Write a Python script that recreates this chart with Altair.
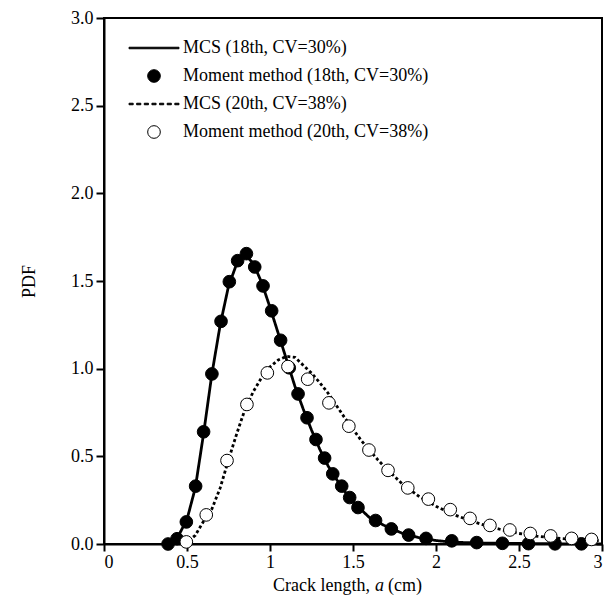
import altair as alt
import pandas as pd

# ---------------- data ----------------
series_names = [
    "MCS (18th, CV=30%)",
    "Moment method (18th, CV=30%)",
    "MCS (20th, CV=38%)",
    "Moment method (20th, CV=38%)",
]

mcs18_x = [0.38, 0.42, 0.45, 0.50, 0.55, 0.60, 0.65, 0.70, 0.75, 0.80, 0.85, 0.90, 0.95, 1.00,
           1.05, 1.10, 1.15, 1.20, 1.25, 1.30, 1.35, 1.40, 1.45, 1.50, 1.60, 1.70, 1.80, 1.90,
           2.00, 2.10, 2.30, 2.60, 3.00]
mcs18_y = [0.00, 0.01, 0.05, 0.14, 0.32, 0.63, 0.97, 1.25, 1.47, 1.60, 1.65, 1.60, 1.49, 1.35,
           1.20, 1.05, 0.90, 0.77, 0.65, 0.54, 0.445, 0.37, 0.30, 0.24, 0.15, 0.10, 0.06, 0.035,
           0.02, 0.01, 0.005, 0.002, 0.0]

mcs20_x = [0.45, 0.50, 0.55, 0.60, 0.65, 0.70, 0.75, 0.80, 0.85, 0.90, 0.95, 1.00, 1.05, 1.10,
           1.15, 1.20, 1.25, 1.30, 1.35, 1.40, 1.45, 1.50, 1.55, 1.60, 1.65, 1.70, 1.80, 1.90,
           2.00, 2.10, 2.20, 2.30, 2.40, 2.50, 2.60, 2.70, 2.80, 2.90, 3.00]
mcs20_y = [0.00, 0.01, 0.05, 0.13, 0.20, 0.32, 0.48, 0.63, 0.77, 0.87, 0.95, 1.01, 1.05, 1.07,
           1.065, 1.02, 0.975, 0.92, 0.86, 0.79, 0.72, 0.655, 0.59, 0.535, 0.48, 0.43, 0.34, 0.27,
           0.215, 0.17, 0.135, 0.105, 0.08, 0.06, 0.045, 0.035, 0.028, 0.022, 0.018]

mm18_x = [0.386, 0.44, 0.496, 0.552, 0.60, 0.65, 0.705, 0.755, 0.805, 0.858, 0.908, 0.958, 1.010,
          1.064, 1.116, 1.169, 1.223, 1.277, 1.329, 1.378, 1.432, 1.48, 1.530, 1.636, 1.731, 1.835,
          1.94, 2.095, 2.245, 2.40, 2.557, 2.717, 2.876]
mm18_y = [0.00, 0.03, 0.126, 0.33, 0.64, 0.97, 1.27, 1.496, 1.616, 1.656, 1.58, 1.472, 1.33,
          1.162, 1.005, 0.856, 0.72, 0.596, 0.49, 0.40, 0.33, 0.265, 0.208, 0.134, 0.086, 0.051,
          0.032, 0.018, 0.008, 0.004, 0.002, 0.001, 0.001]

mm20_x = [0.496, 0.616, 0.741, 0.861, 0.984, 1.108, 1.227, 1.355, 1.475, 1.596, 1.711, 1.83, 1.954,
          2.086, 2.205, 2.325, 2.445, 2.568, 2.691, 2.817, 2.937]
mm20_y = [0.012, 0.166, 0.476, 0.796, 0.976, 1.012, 0.94, 0.805, 0.672, 0.536, 0.42, 0.32, 0.256,
          0.196, 0.146, 0.106, 0.08, 0.06, 0.046, 0.032, 0.026]

x_ticks = [0, 0.5, 1, 1.5, 2, 2.5, 3]
y_ticks = [0, 0.5, 1, 1.5, 2, 2.5, 3]
x_title_parts = ["Crack length,", "a", "(cm)"]
y_title = "PDF"

# ---------------- tables ----------------
lines_df = pd.concat([
    pd.DataFrame({"x": mcs18_x, "y": mcs18_y, "series": series_names[0]}),
    pd.DataFrame({"x": mcs20_x, "y": mcs20_y, "series": series_names[2]}),
])
pts_df = pd.concat([
    pd.DataFrame({"x": mm18_x, "y": mm18_y, "series": series_names[1]}),
    pd.DataFrame({"x": mm20_x, "y": mm20_y, "series": series_names[3]}),
])

FONT = "Liberation Serif"
FS = 18
W, H = 498, 526

xscale = alt.Scale(domain=[0, 3], nice=False, zero=False)
yscale = alt.Scale(domain=[0, 3], nice=False)

xenc = alt.X("x:Q", scale=xscale,
             axis=alt.Axis(values=x_ticks, format="~g", title=None,
                           tickSize=7, labelPadding=2))
yenc = alt.Y("y:Q", scale=yscale,
             axis=alt.Axis(values=y_ticks, format=".1f", title=y_title,
                           titleX=-66, titleY=H / 2, titleAngle=-90))

# legend symbols: thin bar, circle, dashed bar, circle
HALF = 3.95
TH = 0.12
line_path = f"M{-HALF},{-TH}H{HALF}V{TH}H{-HALF}Z"
dash_parts = []
n_dash = 7
dash_len = 0.66
gap = (2 * HALF - n_dash * dash_len) / (n_dash - 1)
pos = -HALF
for i in range(n_dash):
    dash_parts.append(f"M{pos:.3f},{-TH}H{pos + dash_len:.3f}V{TH}H{pos:.3f}Z")
    pos += dash_len + gap
dash_path = "".join(dash_parts)

legend = alt.Legend(title=None, orient="none", legendX=41, legendY=21,
                    symbolSize=160, symbolStrokeColor="black", symbolStrokeWidth=1,
                    labelFont=FONT, labelFontSize=FS, labelColor="black",
                    labelOffset=20, rowPadding=10, padding=0, labelLimit=400)

lines = alt.Chart(lines_df).mark_line(color="black", strokeWidth=2.8).encode(
    x=xenc, y=yenc,
    strokeDash=alt.StrokeDash("series:N",
                              scale=alt.Scale(domain=[series_names[0], series_names[2]],
                                              range=[[1, 0], [3, 2.5]]),
                              legend=None),
)

points = alt.Chart(pts_df).mark_point(filled=True, size=160, strokeWidth=1, opacity=1).encode(
    x=xenc, y=yenc,
    shape=alt.Shape("series:N",
                    scale=alt.Scale(domain=series_names,
                                    range=[line_path, "circle", dash_path, "circle"]),
                    legend=legend),
    fill=alt.Fill("series:N",
                  scale=alt.Scale(domain=series_names,
                                  range=["black", "black", "black", "white"]),
                  legend=legend),
    stroke=alt.Stroke("series:N",
                      scale=alt.Scale(domain=series_names,
                                      range=["black", "black", "black", "black"]),
                      legend=legend),
)

TY = H + 42
t1 = alt.Chart(pd.DataFrame({"t": [x_title_parts[0]]})).mark_text(
    font=FONT, fontSize=FS, align="right", baseline="middle", color="black"
).encode(x=alt.value(266), y=alt.value(TY), text="t:N")
t2 = alt.Chart(pd.DataFrame({"t": [x_title_parts[1]]})).mark_text(
    font=FONT, fontSize=FS, fontStyle="italic", align="left", baseline="middle", color="black"
).encode(x=alt.value(271), y=alt.value(TY), text="t:N")
t3 = alt.Chart(pd.DataFrame({"t": [x_title_parts[2]]})).mark_text(
    font=FONT, fontSize=FS, align="left", baseline="middle", color="black"
).encode(x=alt.value(284), y=alt.value(TY), text="t:N")

chart = alt.layer(lines, points, t1, t2, t3).properties(
    width=W, height=H,
    padding={"left": 96, "top": 10, "right": 2, "bottom": 52},
    autosize=alt.AutoSizeParams(type="none"),
).configure_view(
    stroke="black", strokeWidth=2
).configure_axis(
    domainColor="black", domainWidth=2, tickColor="black", tickWidth=2, tickSize=8,
    labelFont=FONT, labelFontSize=FS, labelColor="black", labelPadding=3,
    titleFont=FONT, titleFontSize=FS, titleColor="black", titleFontWeight="normal",
    grid=False,
)

chart.save("out.html", embed_options={"renderer": "svg", "actions": False})
